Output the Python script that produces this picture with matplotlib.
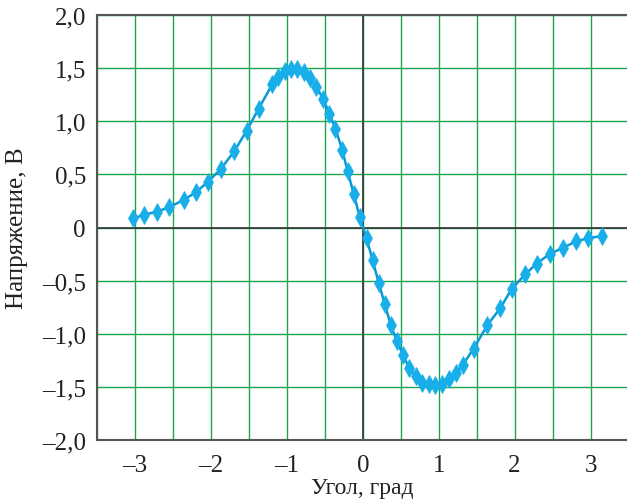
import matplotlib.pyplot as plt
from matplotlib.ticker import FuncFormatter, MultipleLocator

# angle (grad) and voltage (V)
angle = [-3.03, -2.88, -2.71, -2.55, -2.36, -2.20, -2.04, -1.87, -1.69, -1.53,
         -1.37, -1.19, -1.11, -1.03, -0.94, -0.87, -0.78, -0.70, -0.61, -0.52,
         -0.44, -0.36, -0.27, -0.20, -0.12, -0.04, 0.05, 0.13, 0.21, 0.29,
         0.37, 0.45, 0.53, 0.61, 0.70, 0.78, 0.87, 0.95, 1.04, 1.14,
         1.23, 1.32, 1.46, 1.64, 1.81, 1.96, 2.14, 2.29, 2.46, 2.64,
         2.81, 2.97, 3.15]
voltage = [0.085, 0.12, 0.15, 0.19, 0.26, 0.33, 0.43, 0.55, 0.72, 0.91,
           1.12, 1.35, 1.42, 1.47, 1.49, 1.49, 1.46, 1.41, 1.32, 1.21,
           1.07, 0.93, 0.73, 0.53, 0.32, 0.10, -0.10, -0.31, -0.52, -0.72,
           -0.92, -1.07, -1.20, -1.32, -1.40, -1.46, -1.47, -1.48, -1.47, -1.43,
           -1.37, -1.29, -1.14, -0.92, -0.76, -0.58, -0.44, -0.34, -0.25, -0.19,
           -0.13, -0.10, -0.08]

x_ticks = [-3, -2, -1, 0, 1, 2, 3]
y_ticks = [-2.0, -1.5, -1.0, -0.5, 0, 0.5, 1.0, 1.5, 2.0]

plt.rcParams['font.family'] = ['Liberation Serif', 'DejaVu Serif']

fig = plt.figure(figsize=(6.27, 5.02), dpi=100)
ax = fig.add_axes([0.1547, 0.1215, 0.8453, 0.8466])

ax.set_xlim(-3.5, 3.48)
ax.set_ylim(-2.0, 2.0)

# green grid every 0.5
ax.xaxis.set_minor_locator(MultipleLocator(0.5))
ax.yaxis.set_minor_locator(MultipleLocator(0.5))
ax.set_xticks(x_ticks)
ax.set_yticks(y_ticks)
ax.grid(True, which='both', color='#1aa64f', lw=1.0)
ax.set_axisbelow(True)

ax.axhline(0, color='#333333', lw=1.2, zorder=1.5)
ax.axvline(0, color='#333333', lw=1.2, zorder=1.5)

ax.plot(angle, voltage, color='#0b98d6', lw=1.8, marker='d',
        markersize=9, markeredgewidth=0.5, markerfacecolor='#17aee9',
        markeredgecolor='#17aee9', zorder=3)


def fmt_y(v, pos):
    if abs(v) < 1e-9:
        return '0'
    s = f'{abs(v):.1f}'.replace('.', ',')
    return ('\u2013' if v < 0 else '') + s


def fmt_x(v, pos):
    if abs(v) < 1e-9:
        return '0'
    return ('\u2013' if v < 0 else '') + str(int(abs(round(v))))


ax.yaxis.set_major_formatter(FuncFormatter(fmt_y))
ax.xaxis.set_major_formatter(FuncFormatter(fmt_x))

ax.tick_params(which='both', length=0, labelsize=18, colors='#222222')
ax.tick_params(axis='y', pad=8)
ax.tick_params(axis='x', pad=10)

for side in ['top', 'bottom', 'left']:
    ax.spines[side].set_color('#555555')
    ax.spines[side].set_linewidth(1.5)
ax.spines['right'].set_visible(False)

ax.set_xlabel('Угол, град', fontsize=17, color='#222222', labelpad=1)
ax.set_ylabel('Напряжение, В', fontsize=18, color='#222222', labelpad=10)

fig.savefig('out.png', dpi=100)
